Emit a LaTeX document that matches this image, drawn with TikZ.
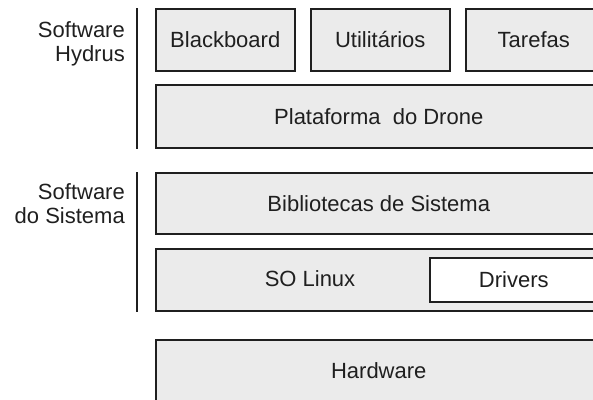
\documentclass[tikz,border=0pt]{standalone}
\usepackage{fontspec}
\setmainfont{Liberation Sans}
\usetikzlibrary{positioning}

\begin{document}
\begin{tikzpicture}[x=1pt,y=-1pt,
  every node/.style={align=center,font=\fontsize{22}{24}\selectfont,text=black!88},
  layer/.style={draw=black!88,fill=black!8,line width=1.5pt,rectangle,inner sep=0pt,anchor=north west,minimum height=62pt},
  side/.style={align=right,inner sep=0pt,anchor=base east}]
\useasboundingbox (0,0) rectangle (593,399);
\clip (0,0) rectangle (593,399);

% camada do software hydrus
\node[layer,minimum width=139pt] (blackboard) at (155,8) {Blackboard};
\node[layer,minimum width=139pt] (utils) at (310,8) {Utilit\'arios};
\node[layer,minimum width=136pt] (tarefas) at (465,8) {Tarefas};
\node[layer,minimum width=446pt,minimum height=63pt] (plataforma) at (155,84) {Plataforma\ \ do Drone};

% software do sistema
\node[layer,minimum width=446pt,minimum height=61pt] (libs) at (155,172) {Bibliotecas de Sistema};
\node[layer,minimum width=446pt] (linux) at (155,248) {};
\node[draw=none,fill=none] (linuxtxt) at (310,279) {SO Linux};
\node[layer,fill=white,minimum width=168pt,minimum height=44pt] (drivers) at (429,257) {Drivers};

\node[layer,minimum width=446pt] (hw) at (155,339) {Hardware};

% chaves laterais
\draw[line width=1.2pt,black!88] ([xshift=-18pt]blackboard.north west) -- ([xshift=-18pt]plataforma.south west);
\draw[line width=1.2pt,black!88] ([xshift=-18pt]libs.north west) -- ([xshift=-18pt]linux.south west);
\node[side] (hydrus) at (125,61) {Software\\Hydrus};
\node[side] (sistema) at (125,223) {Software\\do Sistema};

\end{tikzpicture}
\end{document}
